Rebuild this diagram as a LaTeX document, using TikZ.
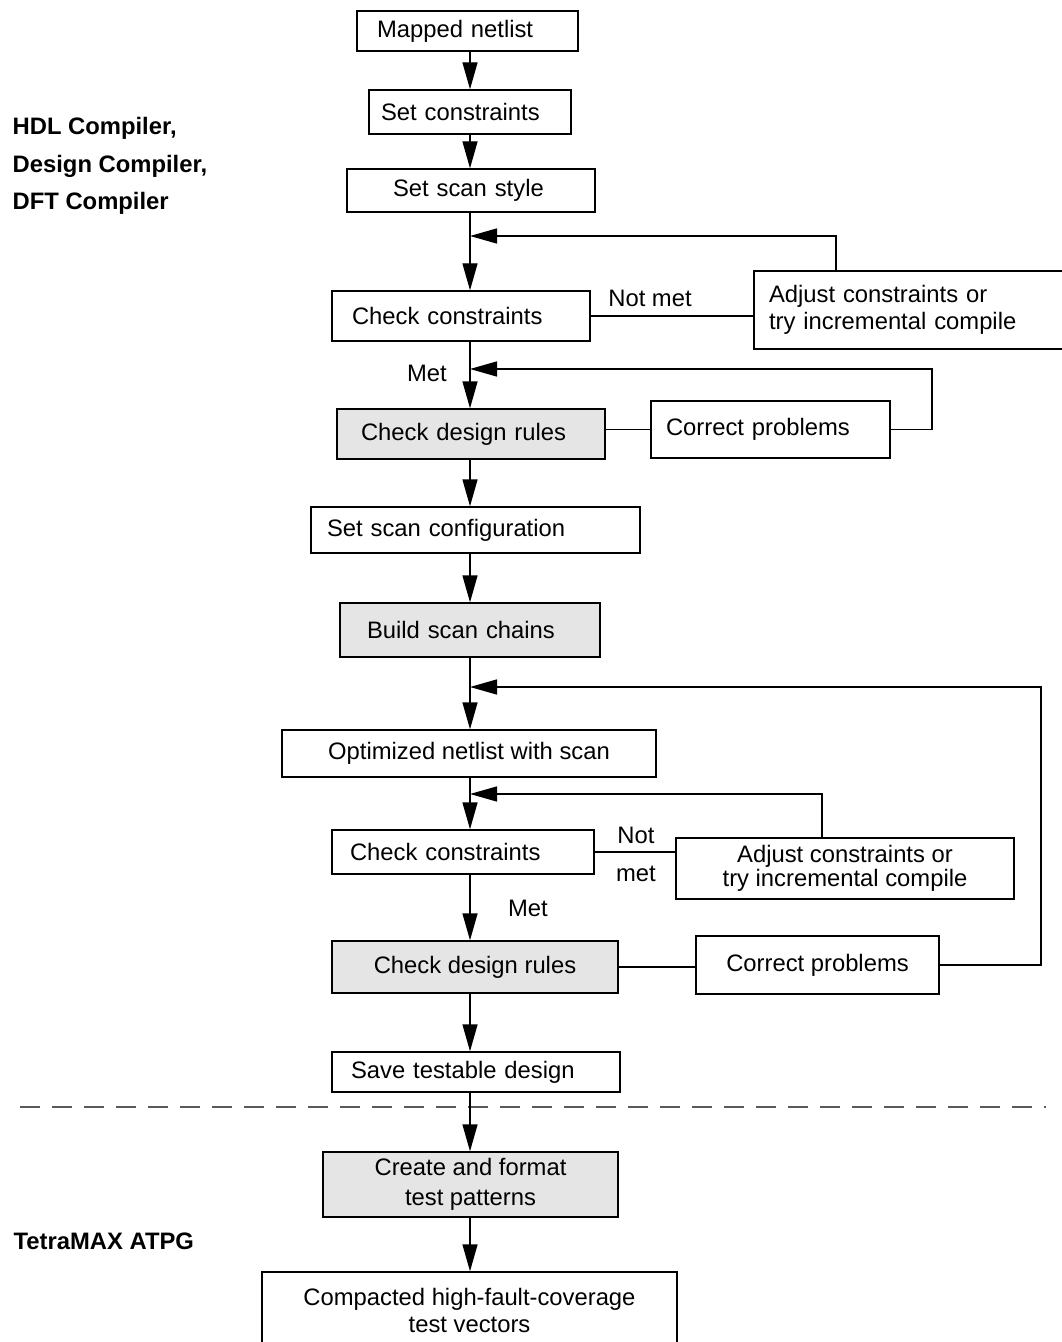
\documentclass[tikz,border=0pt]{standalone}
\usepackage{fontspec}
\setmainfont{Liberation Sans}
\usetikzlibrary{arrows.meta}
\begin{document}
\begin{tikzpicture}[x=0.5pt, y=-0.5pt, line width=0.7pt,
    font=\fontsize{11.9}{13.5}\selectfont,
    box/.style={draw, line width=0.7pt, align=left, inner ysep=0pt},
    shaded/.style={box, fill=black!10},
    flow/.style={-{Triangle[length=13.5pt, width=7.5pt]}},
    tool/.style={font=\fontsize{11.9}{18.75}\selectfont\bfseries, align=left, anchor=west, inner sep=0pt}]

    \useasboundingbox (0,0) rectangle (1061,1342);
    \coordinate (spine) at (470,0);

    % Tool names on the left
    \node[tool] (dctools) at (12,166) {HDL Compiler,\\Design Compiler,\\DFT Compiler};
    \node[tool] (tmax) at (13,1241) {TetraMAX ATPG};

    % Separator between the two tools
    \draw[dash pattern=on 10pt off 6pt, black!65] (20,1107) -- (1046,1107);

    % Synthesis and scan insertion
    \node[box, minimum height=20pt, inner xsep=10pt, text width=90.5pt] (mapped) at (467.5,31) {Mapped netlist};
    \node[box, minimum height=22pt, inner xsep=6pt, text width=89pt] (setcon) at (470,112) {Set constraints};
    \node[box, minimum height=21.5pt, inner xsep=23pt, text width=78pt] (scanstyle) at (471,190.5) {Set scan style};
    \node[box, minimum height=25pt, inner xsep=10pt, text width=109pt] (chk1) at (461,316) {Check constraints};
    \node[box, minimum height=39pt, inner xsep=7.5pt, text width=143pt] (adj1) at (912,310) {Adjust constraints or\\try incremental compile};
    \node[shaded, minimum height=25pt, inner xsep=12pt, text width=110pt] (drc1) at (471,434) {Check design rules};
    \node[box, minimum height=28.5pt, inner xsep=7.5pt, text width=104.5pt] (fix1) at (770.5,429.5) {Correct problems};
    \node[box, minimum height=23pt, inner xsep=8pt, text width=148.5pt] (scancfg) at (475.5,530) {Set scan configuration};
    \node[shaded, minimum height=27pt, inner xsep=13.5pt, text width=103pt] (chains) at (470,630) {Build scan chains};

    % Checks after scan insertion
    \node[box, align=center, minimum height=23.5pt, minimum width=187pt] (optnet) at (469,753.5) {Optimized netlist with scan};
    \node[box, minimum height=22pt, inner xsep=9pt, text width=113pt] (chk2) at (463,852) {Check constraints};
    \node[box, align=center, minimum height=30.5pt, minimum width=169pt, font=\fontsize{11.9}{12}\selectfont] (adj2) at (845,868.5) {Adjust constraints or\\try incremental compile};
    \node[shaded, align=center, minimum height=26pt, minimum width=143pt] (drc2) at (475,967) {Check design rules};
    \node[box, align=center, minimum height=29pt, minimum width=121.5pt] (fix2) at (817.5,965) {Correct problems};
    \node[box, minimum height=20pt, inner xsep=9.5pt, text width=125pt] (save) at (476,1072) {Save testable design};

    % ATPG
    \node[shaded, align=center, minimum height=32.5pt, minimum width=147.5pt, font=\fontsize{11.9}{15}\selectfont] (atpg) at (470.5,1184.5) {Create and format\\test patterns};
    \node[box, align=center, minimum height=38pt, minimum width=207.5pt] (vectors) at (469.5,1310) {Compacted high-fault-coverage\\test vectors};

    % Branch labels
    \node (notmet1) at (650,298) {Not met};
    \node (met1) at (427,373) {Met};
    \node[align=center, font=\fontsize{11.9}{19}\selectfont] (notmet2) at (636,854) {Not\\met};
    \node (met2) at (528,908) {Met};

    % Main flow
    \draw[flow] (mapped.south -| spine) -- (setcon.north -| spine);
    \draw[flow] (setcon.south -| spine) -- (scanstyle.north -| spine);
    \draw[flow] (scanstyle.south -| spine) -- (chk1.north -| spine);
    \draw[flow] (chk1.south -| spine) -- (drc1.north -| spine);
    \draw[flow] (drc1.south -| spine) -- (scancfg.north -| spine);
    \draw[flow] (scancfg.south -| spine) -- (chains.north -| spine);
    \draw[flow] (chains.south -| spine) -- (optnet.north -| spine);
    \draw[flow] (optnet.south -| spine) -- (chk2.north -| spine);
    \draw[flow] (chk2.south -| spine) -- (drc2.north -| spine);
    \draw[flow] (drc2.south -| spine) -- (save.north -| spine);
    \draw[flow] (save.south -| spine) -- (atpg.north -| spine);
    \draw[flow] (atpg.south -| spine) -- (vectors.north -| spine);

    % Side branches
    \draw (chk1.east) -- (chk1.east -| adj1.west);
    \draw (drc1.east |- fix1.west) -- (fix1.west);
    \draw (chk2.east) -- (chk2.east -| adj2.west);
    \draw (drc2.east) -- (drc2.east -| fix2.west);

    % Loops back
    \coordinate (fbA) at (836,236);
    \coordinate (fbB) at (932,369);
    \coordinate (fbC) at (1041,687);
    \coordinate (fbD) at (822,794);
    \draw[flow] (adj1.north -| fbA) -- (fbA) -- (fbA -| spine);
    \draw[flow] (fix1.east) -| (fbB) -- (fbB -| spine);
    \draw[flow] (fix2.east) -| (fbC) -- (fbC -| spine);
    \draw[flow] (adj2.north -| fbD) -- (fbD) -- (fbD -| spine);

\end{tikzpicture}
\end{document}
